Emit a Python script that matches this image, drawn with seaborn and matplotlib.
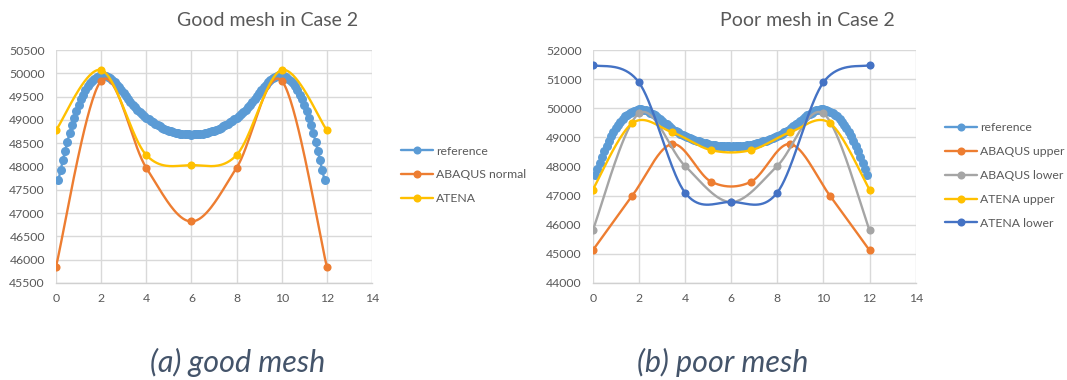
import numpy as np
import matplotlib
matplotlib.use("Agg")
import matplotlib.pyplot as plt
from matplotlib.lines import Line2D
import seaborn as sns

sns.set_style("white")
plt.rcParams["font.family"] = ["Lato", "DejaVu Sans"]

# ---- data -------------------------------------------------------------
ref_x = [round(0.1 * k, 1) for k in range(1, 120)]
ref_y = [
    47700, 47920, 48130, 48330, 48530, 48710, 48880, 49040, 49190, 49320,
    49440, 49545, 49640, 49720, 49785, 49840, 49885, 49920, 49945, 49960,
    49962, 49950, 49930, 49895, 49850, 49805, 49755, 49700, 49640, 49575,
    49510, 49445, 49385, 49325, 49270, 49220, 49170, 49125, 49085, 49050,
    49015, 48980, 48950, 48920, 48890, 48862, 48836, 48812, 48790, 48770,
    48754, 48740, 48727, 48716, 48707, 48700, 48694, 48690, 48687, 48686,
    48687, 48690, 48694, 48700, 48707, 48716, 48727, 48740, 48754,
    48770, 48790, 48812, 48836, 48862, 48890, 48920, 48950, 48980, 49015,
    49050, 49085, 49125, 49170, 49220, 49270, 49325, 49385, 49445, 49510,
    49575, 49640, 49700, 49755, 49805, 49850, 49895, 49930, 49950, 49962,
    49960, 49945, 49920, 49885, 49840, 49785, 49720, 49640, 49545, 49440,
    49320, 49190, 49040, 48880, 48710, 48530, 48330, 48130, 47920, 47700,
]

good_x = [0, 2, 4, 6, 8, 10, 12]
abaqus_normal = [45850, 49840, 47970, 46820, 47970, 49840, 45850]
atena_good = [48780, 50070, 48245, 48030, 48245, 50070, 48780]

upper_x = [0, 1.71, 3.43, 5.14, 6.86, 8.57, 10.29, 12]
abaqus_upper = [45120, 46990, 48770, 47475, 47475, 48770, 46990, 45120]
atena_upper = [47200, 49485, 49180, 48560, 48560, 49180, 49485, 47200]

lower_x = [0, 2, 4, 6, 8, 10, 12]
abaqus_lower = [45805, 49820, 48020, 46780, 48020, 49820, 45805]
atena_lower = [51485, 50890, 47105, 46785, 47105, 50890, 51485]

xticks = [0, 2, 4, 6, 8, 10, 12, 14]
good_yticks = list(range(45500, 50501, 500))
poor_yticks = list(range(44000, 52001, 1000))

C_REF = "#5B9BD5"
C_ORANGE = "#ED7D31"
C_GRAY = "#A5A5A5"
C_YELLOW = "#FFC000"
C_DBLUE = "#4472C4"
TXT = "#595959"


def smooth_curve(x, y, n=40):
    """Bezier smoothing through every point (Catmull-Rom style, tension 1/6)."""
    P = np.column_stack([x, y]).astype(float)
    E = np.vstack([P[0], P, P[-1]])
    t = np.linspace(0, 1, n)[:, None]
    parts = []
    for i in range(len(P) - 1):
        p0, p1, p2, p3 = E[i], E[i + 1], E[i + 2], E[i + 3]
        c1 = p1 + (p2 - p0) / 6
        c2 = p2 - (p3 - p1) / 6
        seg = ((1 - t) ** 3) * p1 + 3 * ((1 - t) ** 2) * t * c1 \
            + 3 * (1 - t) * t ** 2 * c2 + t ** 3 * p2
        parts.append(seg if i == 0 else seg[1:])
    S = np.vstack(parts)
    return S[:, 0], S[:, 1]


def draw_series(ax, x, y, color, ms=34, lw=1.7, z=2):
    sx, sy = smooth_curve(x, y)
    sns.lineplot(x=sx, y=sy, ax=ax, sort=False, estimator=None,
                 color=color, linewidth=lw, zorder=z)
    sns.scatterplot(x=x, y=y, ax=ax, color=color, s=ms, linewidth=0,
                    zorder=z + 0.5)


def style_axes(ax, yticks):
    ax.set_xlim(0, 14)
    ax.set_ylim(yticks[0], yticks[-1])
    ax.set_xticks(xticks)
    ax.set_yticks(yticks)
    ax.set_xticklabels([str(v) for v in xticks])
    ax.set_yticklabels([str(v) for v in yticks])
    ax.grid(True, color="#D9D9D9", linewidth=1.0)
    ax.set_axisbelow(True)
    for s in ("top", "right", "left"):
        ax.spines[s].set_visible(False)
    ax.spines["bottom"].set_color("#D0D0D0")
    ax.spines["bottom"].set_linewidth(1.0)
    ax.tick_params(axis="both", length=0, colors=TXT, labelsize=8.8)
    ax.tick_params(axis="y", pad=8)
    ax.tick_params(axis="x", pad=7)
    ax.set_xlabel("")
    ax.set_ylabel("")


def legend_handles(colors):
    return [Line2D([0], [0], color=c, lw=1.7, marker="o", markersize=5.8,
                   markeredgewidth=0) for c in colors]


fig = plt.figure(figsize=(10.67, 3.8), dpi=100)
ax1 = fig.add_axes([0.0525, 0.2553, 0.2961, 0.6131])
ax2 = fig.add_axes([0.5555, 0.2553, 0.3027, 0.6131])

# ---- Good mesh -------------------------------------------------------
draw_series(ax1, ref_x, ref_y, C_REF, ms=42, z=2)
draw_series(ax1, good_x, abaqus_normal, C_ORANGE, z=3)
draw_series(ax1, good_x, atena_good, C_YELLOW, z=4)
style_axes(ax1, good_yticks)

# ---- Poor mesh -------------------------------------------------------
draw_series(ax2, ref_x, ref_y, C_REF, ms=42, z=2)
draw_series(ax2, upper_x, abaqus_upper, C_ORANGE, z=3)
draw_series(ax2, lower_x, abaqus_lower, C_GRAY, z=4)
draw_series(ax2, upper_x, atena_upper, C_YELLOW, z=5)
draw_series(ax2, lower_x, atena_lower, C_DBLUE, z=6)
style_axes(ax2, poor_yticks)

leg_kw = dict(loc="center left", frameon=False, fontsize=8.8,
              handlelength=2.6, handletextpad=0.25, labelspacing=1.05,
              borderpad=0, borderaxespad=0, labelcolor=TXT)
fig.legend(legend_handles([C_REF, C_ORANGE, C_YELLOW]),
           ["reference", "ABAQUS normal", "ATENA"],
           bbox_to_anchor=(0.3758, 0.5395), **leg_kw)
fig.legend(legend_handles([C_REF, C_ORANGE, C_GRAY, C_YELLOW, C_DBLUE]),
           ["reference", "ABAQUS upper", "ABAQUS lower", "ATENA upper",
            "ATENA lower"],
           bbox_to_anchor=(0.8857, 0.538), **leg_kw)

fig.text(0.2512, 0.947, "Good mesh in Case 2", ha="center", va="center",
         fontsize=14, color=TXT)
fig.text(0.7563, 0.947, "Poor mesh in Case 2", ha="center", va="center",
         fontsize=14, color=TXT)

cap_kw = dict(ha="center", va="center", fontsize=22, color="#44546A",
              style="italic", fontweight="normal")
fig.text(0.223, 0.047, "(a) good mesh", **cap_kw)
fig.text(0.6776, 0.047, "(b) poor mesh", **cap_kw)

fig.savefig("out.png", dpi=100)
